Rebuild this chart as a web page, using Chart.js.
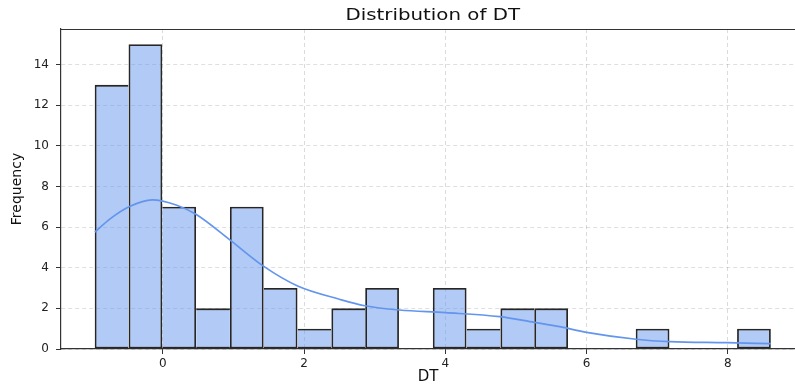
<!DOCTYPE html>
<html>
<head>
<meta charset="utf-8">
<title>Distribution of DT</title>
<script src="https://cdn.jsdelivr.net/npm/chart.js@4/dist/chart.umd.min.js"></script>
<style>
    html, body { margin: 0; padding: 0; background: #fff; overflow: hidden; }
    #wrap { width: 795px; height: 385px; }
</style>
</head>
<body>
<div id="wrap"><canvas id="dtChart" width="795" height="385"></canvas></div>
<script>
// Histogram bins (centres) and counts
const binCenters = [-0.724, -0.245, 0.233, 0.712, 1.190, 1.669, 2.148, 2.626, 3.105, 3.583,
                    4.062, 4.541, 5.019, 5.498, 5.976, 6.455, 6.934, 7.412, 7.891, 8.369];
const binCounts = [13, 15, 7, 2, 7, 3, 1, 2, 3, 0, 3, 1, 2, 2, 0, 0, 1, 0, 0, 1];

// KDE curve (scaled to counts)
const kdeX = [-0.96, -0.75, -0.47, -0.15, 0.19, 0.47, 0.95, 1.42, 1.91, 2.5, 2.86,
              3.35, 4.0, 4.77, 5.26, 5.62, 6.0, 6.7, 7.18, 7.98, 8.61];
const kdeY = [5.75, 6.39, 7.01, 7.34, 7.09, 6.63, 5.37, 4.09, 3.10, 2.45, 2.13,
              1.92, 1.79, 1.59, 1.31, 1.10, 0.82, 0.48, 0.36, 0.31, 0.26];

const xTicks = [0, 2, 4, 6, 8];
const yTicks = [0, 2, 4, 6, 8, 10, 12, 14];

const titleText = 'Distribution of DT';
const FONT = "'DejaVu Sans', sans-serif";
const EDGE = 1.8;

// Shared edge between two bins is drawn once, by the taller bar
function barEdges(i) {
    const c = binCounts[i];
    const prev = i > 0 ? binCounts[i - 1] : 0;
    const next = i < binCounts.length - 1 ? binCounts[i + 1] : 0;
    return {
        top: EDGE,
        bottom: EDGE,
        left: c >= prev ? EDGE : 0,
        right: c > next ? EDGE : 0
    };
}

// Title over the binned range + top spine
const framePlugin = {
    id: 'frame',
    afterDraw(chart) {
        const { ctx, chartArea, scales } = chart;
        ctx.save();
        ctx.strokeStyle = '#333';
        ctx.lineWidth = 1.2;
        ctx.beginPath();
        ctx.moveTo(chartArea.left, chartArea.top + 0.5);
        ctx.lineTo(chartArea.right, chartArea.top + 0.5);
        ctx.stroke();

        const mid = (binCenters[0] + binCenters[binCenters.length - 1]) / 2;
        const cx = scales.x.getPixelForValue(mid);
        ctx.translate(cx, 16.5);
        ctx.scale(1.32, 1);
        ctx.fillStyle = '#111';
        ctx.font = '15px ' + FONT;
        ctx.textAlign = 'center';
        ctx.textBaseline = 'middle';
        ctx.fillText(titleText, 0, 0);
        ctx.restore();
    }
};

const ctx = document.getElementById('dtChart').getContext('2d');
new Chart(ctx, {
    type: 'bar',
    data: {
        datasets: [{
            type: 'line',
            label: 'KDE',
            data: kdeX.map((x, i) => ({ x: x, y: kdeY[i] })),
            borderColor: '#6495ED',
            borderWidth: 1.7,
            pointRadius: 0,
            cubicInterpolationMode: 'monotone',
            fill: false,
            order: 0
        }, {
            label: 'DT',
            data: binCenters.map((x, i) => ({ x: x, y: binCounts[i] || null })),
            backgroundColor: 'rgba(100, 149, 237, 0.5)',
            borderColor: '#262626',
            borderWidth: c => barEdges(c.dataIndex),
            borderSkipped: false,
            barPercentage: 1,
            categoryPercentage: 1,
            inflateAmount: 0,
            order: 1
        }]
    },
    options: {
        responsive: false,
        animation: false,
        devicePixelRatio: 1,
        layout: { padding: { top: 29, left: 0, right: 0, bottom: 0 } },
        plugins: {
            legend: { display: false },
            tooltip: { enabled: false },
            title: { display: false }
        },
        scales: {
            x: {
                type: 'linear',
                min: -1.44,
                max: 8.95,
                offset: false,
                afterFit: s => { s.height = 36; },
                afterBuildTicks: s => { s.ticks = xTicks.map(v => ({ value: v })); },
                ticks: {
                    color: '#222',
                    font: { family: FONT, size: 12 },
                    padding: 3,
                    maxRotation: 0
                },
                grid: {
                    offset: false,
                    color: 'rgba(0,0,0,0.18)',
                    lineWidth: 0.8,
                    tickLength: 5,
                    tickColor: '#333',
                    tickWidth: 1
                },
                border: { color: '#333', width: 1.2, dash: [4, 3] },
                title: {
                    display: true,
                    text: 'DT',
                    color: '#111',
                    font: { family: FONT, size: 15, lineHeight: 1 },
                    padding: { top: 0, bottom: 0 }
                }
            },
            y: {
                min: 0,
                max: 15.75,
                afterFit: s => { s.width = 61; },
                afterBuildTicks: s => { s.ticks = yTicks.map(v => ({ value: v })); },
                ticks: {
                    color: '#222',
                    font: { family: FONT, size: 12 },
                    padding: 7
                },
                grid: {
                    color: 'rgba(0,0,0,0.16)',
                    lineWidth: 0.8,
                    tickLength: 5,
                    tickColor: '#333',
                    tickWidth: 1
                },
                border: { color: '#333', width: 1.2, dash: [4, 3] },
                title: {
                    display: true,
                    text: 'Frequency',
                    color: '#111',
                    font: { family: FONT, size: 14, lineHeight: 1.2 },
                    padding: { top: 9, bottom: 9 }
                }
            }
        }
    },
    plugins: [framePlugin]
});
</script>
</body>
</html>
